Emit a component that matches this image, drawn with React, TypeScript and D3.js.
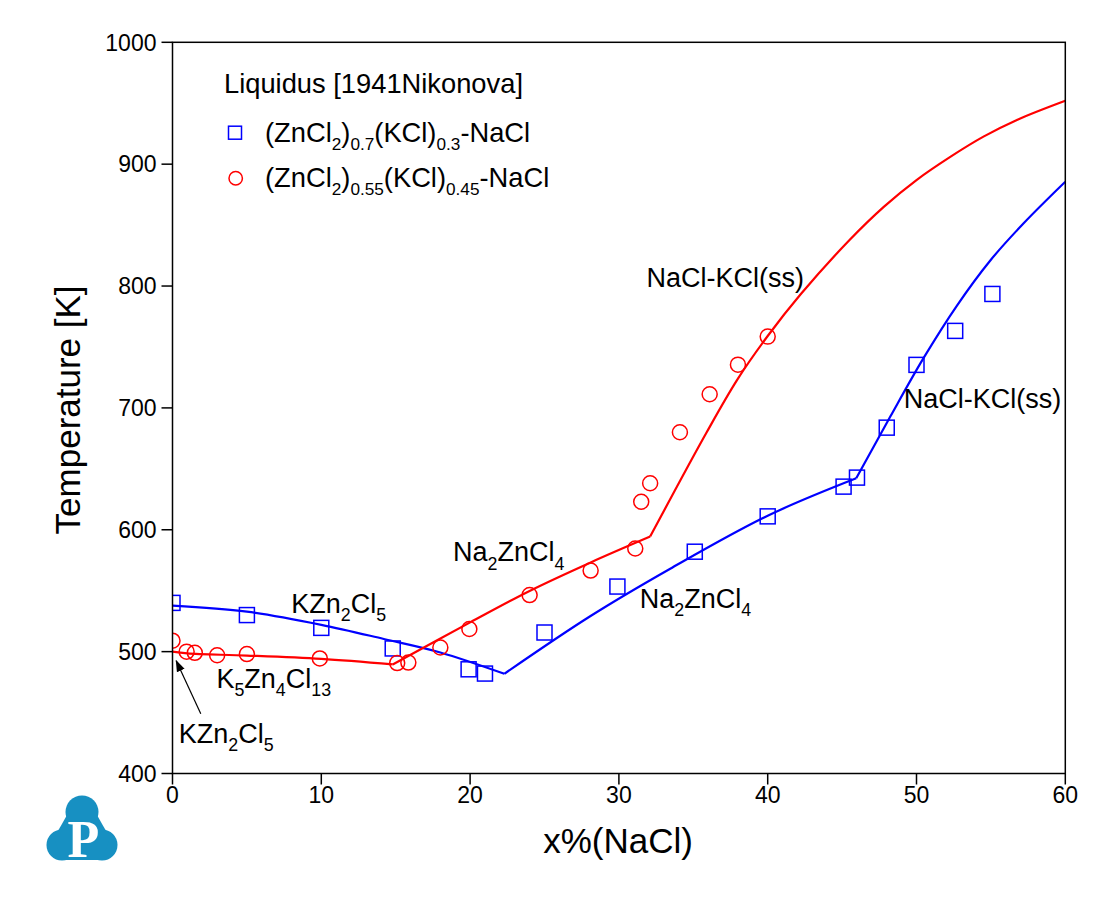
import React from 'react';
import * as d3 from 'd3';

// ---------- data ----------
const xTicks = [0, 10, 20, 30, 40, 50, 60];
const yTicks = [400, 500, 600, 700, 800, 900, 1000];

// experimental: (ZnCl2)0.7(KCl)0.3-NaCl
const blueSquares: [number, number][] = [
  [0, 540], [5, 530], [10, 519.5], [14.8, 502.6], [19.9, 485.5], [21, 482],
  [25, 515.7], [29.9, 553.4], [35.1, 582], [40, 611], [45.1, 635.4], [46, 642.8],
  [48, 683.8], [50, 735.3], [52.6, 763.2], [55.1, 793.5],
];

// experimental: (ZnCl2)0.55(KCl)0.45-NaCl
const redCircles: [number, number][] = [
  [0, 509], [0.95, 500], [1.5, 499], [3, 497], [5, 498], [9.9, 494.4],
  [15.1, 490.6], [15.85, 491], [18, 503.4], [19.95, 518.6], [24, 546.4],
  [28.1, 566.5], [31.1, 584.6], [31.5, 623], [32.1, 638.2], [34.1, 680],
  [36.1, 711.2], [38, 735.5], [40, 758.5],
];

// calculated liquidus, blue section (segments split at invariant points)
const blueSeg1: [number, number][] = [[0, 537.7], [5, 532.8], [10, 522], [14.2, 510.4], [18, 499.3], [22.3, 481.8]];
const blueSeg2: [number, number][] = [[22.3, 481.8], [28.07, 529], [33.45, 568], [40, 611.5], [45.95, 642.2]];
const blueSeg3: [number, number][] = [[45.95, 642.2], [48.24, 692.9], [50.47, 740.8], [52.72, 784], [54.96, 821], [57.2, 851.5], [60, 885.6]];

// calculated liquidus, red section
const redSeg1: [number, number][] = [[0, 500], [1, 498.5], [5, 496.8], [10, 494], [14.8, 489.5]];
const redSeg2: [number, number][] = [[14.8, 489.5], [20, 524], [24.03, 550], [28.07, 573], [32.1, 594.4]];
const redSeg3: [number, number][] = [[32.1, 594.4], [35.9, 680], [38, 724], [40, 759], [42.2, 793], [45.5, 837.8], [47.8, 865], [50, 887], [52.27, 906], [54.5, 922.6], [56.75, 936.3], [60, 952]];

const blueSegments = [blueSeg1, blueSeg2, blueSeg3];
const redSegments = [redSeg1, redSeg2, redSeg3];

// phase-field labels in data coordinates (x%, T)
const phaseLabels: { text: string; x: number; t: number }[] = [
  { text: 'NaCl-KCl(ss)', x: 31.85, t: 799.5 },
  { text: 'NaCl-KCl(ss)', x: 49.15, t: 700 },
  { text: 'Na_{2}ZnCl_{4}', x: 18.85, t: 574 },
  { text: 'Na_{2}ZnCl_{4}', x: 31.4, t: 535.7 },
  { text: 'KZn_{2}Cl_{5}', x: 7.98, t: 531.6 },
  { text: 'K_{5}Zn_{4}Cl_{13}', x: 2.95, t: 470 },
  { text: 'KZn_{2}Cl_{5}', x: 0.42, t: 425 },
];
const arrowFrom: [number, number] = [1.9, 449];
const arrowTo: [number, number] = [0.25, 492.5];

const legendTitle = 'Liquidus [1941Nikonova]';
const legendBlue = '(ZnCl_{2})_{0.7}(KCl)_{0.3}-NaCl';
const legendRed = '(ZnCl_{2})_{0.55}(KCl)_{0.45}-NaCl';

const xTitle = 'x%(NaCl)';
const yTitle = 'Temperature [K]';

// ---------- layout ----------
const W = 1117;
const H = 907;
const L = 172.5, R = 1065.3, T = 42.3, B = 773.5;
const FONT = '"Liberation Sans", Arial, Helvetica, sans-serif';
const BLUE = '#0000ff';
const RED = '#ff0000';

function rich(s: string, size: number, subScale = 0.66) {
  const parts = s.split(/(_\{[^}]*\})/).filter((p) => p.length > 0);
  const out: React.ReactNode[] = [];
  let inSub = false;
  const shift = size * 0.3;
  parts.forEach((p, i) => {
    if (p.startsWith('_{')) {
      out.push(
        <tspan key={i} fontSize={size * subScale} dy={inSub ? 0 : shift}>
          {p.slice(2, -1)}
        </tspan>
      );
      inSub = true;
    } else {
      out.push(
        <tspan key={i} fontSize={size} dy={inSub ? -shift : 0}>
          {p}
        </tspan>
      );
      inSub = false;
    }
  });
  return out;
}

export default function App() {
  const x = d3.scaleLinear().domain([0, 60]).range([L, R]);
  const y = d3.scaleLinear().domain([400, 1000]).range([B, T]);
  const line = d3
    .line<[number, number]>()
    .x((d) => x(d[0]))
    .y((d) => y(d[1]))
    .curve(d3.curveCatmullRom.alpha(0.5));

  const sq = 15;
  const cr = 7.5;
  const tickLen = 11;

  const ax0 = x(arrowFrom[0]);
  const ay0 = y(arrowFrom[1]);
  const ax1 = x(arrowTo[0]);
  const ay1 = y(arrowTo[1]);

  return (
    <svg
      width={W}
      height={H}
      viewBox={`0 0 ${W} ${H}`}
      style={{ position: 'absolute', left: 0, top: 0, background: '#fff' }}
      fontFamily={FONT}
    >
      <defs>
        <clipPath id="plotClip">
          <rect x={L} y={T} width={R - L} height={B - T} />
        </clipPath>
        <marker id="arrowHead" viewBox="0 0 10 10" refX="9" refY="5" markerWidth="12" markerHeight="12" orient="auto" markerUnits="userSpaceOnUse">
          <path d="M0,1.5 L10,5 L0,8.5 z" fill="#000" />
        </marker>
      </defs>
      <rect x={0} y={0} width={W} height={H} fill="#fff" />

      {/* calculated lines */}
      <g clipPath="url(#plotClip)" fill="none" strokeWidth={2.2} strokeLinejoin="round">
        {blueSegments.map((s, i) => (
          <path key={'b' + i} d={line(s) || ''} stroke={BLUE} />
        ))}
        {redSegments.map((s, i) => (
          <path key={'r' + i} d={line(s) || ''} stroke={RED} />
        ))}
      </g>

      {/* experimental points */}
      <g clipPath="url(#plotClip)" fill="none" strokeWidth={1.5}>
        {blueSquares.map((d, i) => (
          <rect key={'s' + i} x={x(d[0]) - sq / 2} y={y(d[1]) - sq / 2} width={sq} height={sq} stroke={BLUE} />
        ))}
        {redCircles.map((d, i) => (
          <circle key={'c' + i} cx={x(d[0])} cy={y(d[1])} r={cr} stroke={RED} />
        ))}
      </g>

      {/* frame */}
      <rect x={L} y={T} width={R - L} height={B - T} fill="none" stroke="#000" strokeWidth={1.5} />

      {/* x axis ticks */}
      <g>
        {xTicks.map((v) => (
          <g key={'xt' + v}>
            <line x1={x(v)} x2={x(v)} y1={B} y2={B + tickLen} stroke="#000" strokeWidth={1.5} />
            <text x={x(v)} y={803} textAnchor="middle" fontSize={23} fill="#000">
              {v}
            </text>
          </g>
        ))}
      </g>
      {/* y axis ticks */}
      <g>
        {yTicks.map((v) => (
          <g key={'yt' + v}>
            <line x1={L - tickLen} x2={L} y1={y(v)} y2={y(v)} stroke="#000" strokeWidth={1.5} />
            <text x={L - tickLen - 5} y={y(v)} dy="0.36em" textAnchor="end" fontSize={23} fill="#000">
              {v}
            </text>
          </g>
        ))}
      </g>

      {/* axis titles */}
      <text x={618} y={853} textAnchor="middle" fontSize={35} fill="#000">
        {xTitle}
      </text>
      <text transform={`translate(80, ${(T + B) / 2 + 2}) rotate(-90)`} textAnchor="middle" fontSize={35} fill="#000">
        {yTitle}
      </text>

      {/* legend */}
      <text x={224} y={93.3} fontSize={27.3} fill="#000">
        {legendTitle}
      </text>
      <rect x={235 - 6.5} y={132.7 - 6.5} width={13} height={13} fill="none" stroke={BLUE} strokeWidth={1.5} />
      <text x={265} y={141.7} fontSize={27.3} fill="#000">
        {rich(legendBlue, 27.3, 0.63)}
      </text>
      <circle cx={235.7} cy={178.3} r={6.7} fill="none" stroke={RED} strokeWidth={1.5} />
      <text x={265} y={186.7} fontSize={27.3} fill="#000">
        {rich(legendRed, 27.3, 0.63)}
      </text>

      {/* phase labels */}
      {phaseLabels.map((lb, i) => (
        <text key={'pl' + i} x={x(lb.x)} y={y(lb.t)} fontSize={27} fill="#000">
          {rich(lb.text, 27, 0.66)}
        </text>
      ))}
      <line x1={ax0} y1={ay0} x2={ax1} y2={ay1} stroke="#000" strokeWidth={1.2} markerEnd="url(#arrowHead)" />

      {/* logo */}
      <g fill="#1790c2">
        <circle cx={82} cy={812} r={16.5} />
        <circle cx={62} cy={845} r={15.5} />
        <circle cx={102} cy={845} r={15.5} />
        <polygon points="67,815 97,815 110,838 102,860 62,860 54,838" />
      </g>
      <text x={83.5} y={856.5} textAnchor="middle" fontSize={52} fontWeight="bold" fill="#fff" fontFamily='"Liberation Serif", "Times New Roman", serif'>
        P
      </text>
    </svg>
  );
}
